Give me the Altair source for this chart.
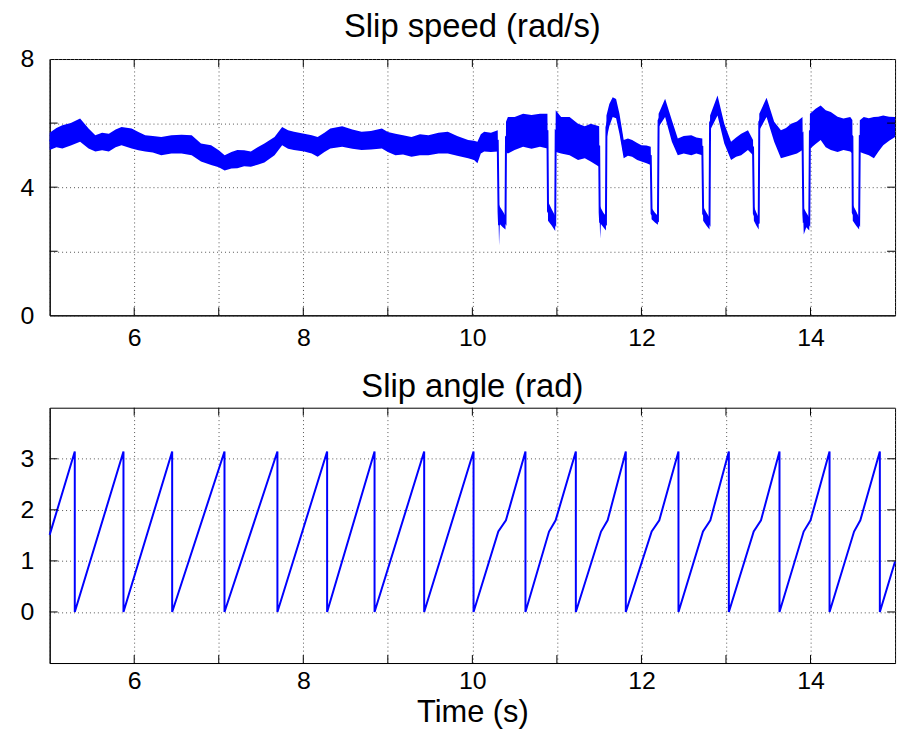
import altair as alt
import pandas as pd

# ---------------- data ----------------
# Slip speed: noisy band described by its lower / upper envelope (rad/s)
speed_t = [5.00, 5.08, 5.15, 5.25, 5.36, 5.46, 5.54, 5.62, 5.70, 5.78, 5.85, 5.97, 6.05, 6.13, 6.22,
           6.32, 6.44, 6.56, 6.68, 6.79, 6.91, 7.00, 7.07, 7.15, 7.22, 7.30, 7.38, 7.46, 7.54, 7.66,
           7.75, 7.82, 7.89, 8.01, 8.10, 8.17, 8.25, 8.32, 8.46, 8.58, 8.69, 8.80, 8.93, 9.00, 9.09,
           9.18, 9.28, 9.38, 9.48, 9.60, 9.71, 9.82, 9.95, 10.02, 10.06, 10.10, 10.14, 10.22, 10.30,
           10.310, 10.316, 10.324, 10.360, 10.392, 10.398, 10.42, 10.50, 10.60, 10.70, 10.80, 10.888,
           10.895, 10.94, 10.980, 10.986, 11.05, 11.15, 11.25, 11.33, 11.40, 11.50,
           11.506, 11.512, 11.52, 11.55, 11.580, 11.586, 11.62, 11.66, 11.70, 11.74, 11.79, 11.84,
           11.89, 11.95, 12.00, 12.06, 12.11,
           12.12, 12.16, 12.195, 12.203, 12.28, 12.36, 12.43, 12.50, 12.59, 12.65, 12.72,
           12.73, 12.77, 12.805, 12.812, 12.90, 12.98, 13.06, 13.12, 13.18, 13.26, 13.32,
           13.33, 13.36, 13.387, 13.394, 13.48, 13.57, 13.65, 13.71, 13.77, 13.84, 13.905,
           13.915, 13.92, 13.95, 13.985, 13.993, 14.06, 14.12, 14.18, 14.24, 14.32, 14.39, 14.47, 14.495,
           14.50, 14.54, 14.575, 14.583, 14.63, 14.69, 14.75, 14.80, 14.86, 14.93, 15.00]
speed_lo = [5.16, 5.25, 5.21, 5.30, 5.42, 5.21, 5.11, 5.15, 5.11, 5.25, 5.31, 5.21, 5.15, 5.11, 5.08,
            5.00, 5.05, 5.05, 5.00, 4.80, 4.69, 4.62, 4.52, 4.58, 4.59, 4.65, 4.64, 4.70, 4.77, 5.00,
            5.31, 5.20, 5.16, 5.11, 5.05, 4.95, 5.10, 5.21, 5.26, 5.20, 5.16, 5.18, 5.21, 5.10, 5.00,
            5.02, 4.95, 5.00, 5.00, 5.05, 5.05, 4.98, 4.90, 4.85, 4.75, 5.05, 5.11, 5.10, 5.11,
            2.95, 2.18, 2.85, 2.75, 2.68, 5.10, 5.05, 5.16, 5.26, 5.20, 5.26, 5.21,
            2.95, 2.80, 2.63, 5.10, 5.05, 5.00, 4.85, 4.90, 4.80, 4.64,
            2.95, 2.39, 2.85, 2.75, 2.65, 5.50, 5.90, 6.19, 6.15, 5.67, 4.90, 4.98,
            4.95, 4.85, 4.80, 4.75, 4.69,
            3.00, 2.90, 2.83, 5.88, 6.19, 5.42, 5.00, 5.05, 5.00, 5.05, 5.00,
            2.95, 2.80, 2.68, 5.78, 6.24, 5.36, 4.85, 4.95, 5.00, 5.16, 5.00,
            2.95, 2.80, 2.68, 5.78, 6.19, 5.42, 4.90, 4.95, 5.00, 5.05, 5.16,
            2.95, 2.52, 2.75, 2.65, 5.20, 5.35, 5.47, 5.25, 5.16, 5.10, 5.16, 5.11, 5.05,
            2.95, 2.80, 2.68, 5.10, 5.05, 5.00, 4.90, 5.10, 5.31, 5.45, 5.57]
speed_hi = [5.70, 5.85, 5.93, 6.00, 6.14, 5.83, 5.62, 5.70, 5.67, 5.80, 5.88, 5.83, 5.72, 5.62, 5.60,
            5.57, 5.62, 5.64, 5.62, 5.36, 5.31, 5.15, 5.00, 5.10, 5.16, 5.15, 5.11, 5.25, 5.36, 5.57,
            5.88, 5.78, 5.73, 5.67, 5.62, 5.57, 5.70, 5.83, 5.90, 5.80, 5.73, 5.75, 5.83, 5.72, 5.67,
            5.62, 5.57, 5.65, 5.62, 5.70, 5.73, 5.60, 5.47, 5.45, 5.42, 5.65, 5.73, 5.70, 5.78,
            3.50, 3.45, 3.40, 3.25, 3.10, 6.04, 6.19, 6.19, 6.29, 6.25, 6.29, 6.29,
            3.55, 3.30, 3.10, 6.40, 6.19, 6.19, 5.98, 5.90, 5.98, 5.90,
            3.45, 3.40, 3.35, 3.20, 3.10, 6.24, 6.60, 6.81, 6.75, 6.29, 5.47, 5.52,
            5.47, 5.38, 5.31, 5.30, 5.26,
            3.35, 3.20, 3.10, 6.29, 6.76, 6.09, 5.52, 5.60, 5.62, 5.55, 5.52,
            3.40, 3.20, 3.05, 6.24, 6.86, 5.98, 5.42, 5.55, 5.67, 5.78, 5.47,
            3.40, 3.20, 3.05, 6.29, 6.79, 6.04, 5.78, 5.85, 5.98, 6.05, 6.19,
            3.40, 3.35, 3.20, 3.05, 6.29, 6.45, 6.55, 6.40, 6.35, 6.20, 6.14, 6.19, 6.10,
            3.45, 3.25, 3.05, 6.09, 6.19, 6.15, 6.19, 6.20, 6.24, 6.20, 6.19]

# Slip angle: sawtooth between 0 and pi (rad)
angle_t = [5.0, 5.297, 5.297, 5.873, 5.873, 6.449, 6.449, 7.068, 7.068, 7.694, 7.694,
           8.282, 8.282, 8.843, 8.843, 9.43, 9.43, 10.014, 10.014, 10.307, 10.397,
           10.628, 10.628, 10.907, 10.985, 11.224, 11.224, 11.522, 11.60,
           11.815, 11.815, 12.121, 12.211, 12.438, 12.438, 12.728, 12.815,
           13.034, 13.034, 13.328, 13.414, 13.633, 13.633, 13.919, 14.0,
           14.225, 14.225, 14.515, 14.589, 14.82, 14.82, 15.0]
angle_v = [1.51, 3.1416, 0.0, 3.1416, 0.0, 3.1416, 0.0, 3.1416, 0.0, 3.1416, 0.0,
           3.1416, 0.0, 3.1416, 0.0, 3.1416, 0.0, 3.1416, 0.0, 1.575, 1.795,
           3.1416, 0.0, 1.575, 1.795, 3.1416, 0.0, 1.575, 1.795,
           3.1416, 0.0, 1.575, 1.795, 3.1416, 0.0, 1.575, 1.795,
           3.1416, 0.0, 1.575, 1.795, 3.1416, 0.0, 1.575, 1.795,
           3.1416, 0.0, 1.575, 1.795, 3.1416, 0.0, 0.99]

x_grid = [5, 6, 7, 8, 9, 10, 11, 12, 13, 14, 15]
x_inner_ticks = [6, 7, 8, 9, 10, 11, 12, 13, 14]
speed_ticks = [0, 2, 4, 6, 8]
speed_inner_ticks = [2, 4, 6]
angle_ticks = [0, 1, 2, 3]

# ---------------- chart ----------------
W, H1, H2 = 851, 258, 257
BLUE = "#0000ff"
FONT = "Liberation Sans"
TL = 8  # inner tick length
TITLE_SIZE = 33
LABEL_SIZE = 25

speed_df = pd.DataFrame({"t": speed_t, "lo": speed_lo, "hi": speed_hi})
speed_df["mid"] = (speed_df["lo"] + speed_df["hi"]) / 2
angle_df = pd.DataFrame({"t": angle_t, "v": angle_v, "i": list(range(len(angle_t)))})

xscale = alt.Scale(domain=[5, 15], nice=False, zero=False)
label_even = "datum.value % 2 == 0 ? datum.label : ''"


def x_axis(title, pad):
    kw = dict(values=x_grid, labelExpr=label_even, grid=True, ticks=False,
              labelPadding=pad, labelFontSize=LABEL_SIZE, titleFontSize=31,
              titleFontWeight="normal", titlePadding=4)
    if title:
        return alt.Axis(title=title, **kw)
    return alt.Axis(title=None, **kw)


def inner_ticks(xvals, yvals, yscale, yaxis, xaxis, h):
    xt = pd.DataFrame({"t": xvals})
    yt = pd.DataFrame({"v": yvals})
    xs = alt.X("t:Q", scale=xscale, axis=xaxis)
    ys = alt.Y("v:Q", scale=yscale, axis=yaxis)
    bot = alt.Chart(xt).mark_rule(color="black", strokeWidth=1).encode(
        x=xs, y=alt.value(h - TL), y2=alt.value(h))
    top = alt.Chart(xt).mark_rule(color="black", strokeWidth=1).encode(
        x=xs, y=alt.value(0), y2=alt.value(TL))
    left = alt.Chart(yt).mark_rule(color="black", strokeWidth=1).encode(
        y=ys, x=alt.value(0), x2=alt.value(TL))
    right = alt.Chart(yt).mark_rule(color="black", strokeWidth=1).encode(
        y=ys, x=alt.value(W - TL), x2=alt.value(W))
    return [bot, top, left, right]


yscale1 = alt.Scale(domain=[0, 8], nice=False, zero=False)
yaxis1 = alt.Axis(values=speed_ticks, labelExpr="datum.value % 4 == 0 ? datum.label : ''",
                  grid=True, ticks=False, title=None, labelPadding=16, minExtent=49,
                  labelFontSize=LABEL_SIZE)
xaxis1 = x_axis(None, 10)

band = alt.Chart(speed_df).mark_area(color=BLUE, opacity=1).encode(
    x=alt.X("t:Q", scale=xscale, axis=xaxis1),
    y=alt.Y("lo:Q", scale=yscale1, axis=yaxis1),
    y2="hi:Q",
)
mid = alt.Chart(speed_df).mark_line(color=BLUE, strokeWidth=2).encode(
    x=alt.X("t:Q", scale=xscale, axis=xaxis1),
    y=alt.Y("mid:Q", scale=yscale1, axis=yaxis1),
)
top_panel = alt.layer(band, mid, *inner_ticks(x_inner_ticks, speed_inner_ticks, yscale1,
                                              yaxis1, xaxis1, H1)).properties(
    width=W, height=H1,
    title=alt.TitleParams("Slip speed (rad/s)", fontSize=TITLE_SIZE, font=FONT,
                          fontWeight="normal", color="black", anchor="middle", offset=3),
)

yscale2 = alt.Scale(domain=[-1, 4], nice=False, zero=False)
yaxis2 = alt.Axis(values=angle_ticks, grid=True, ticks=False, title=None, labelPadding=16,
                  minExtent=49, labelFontSize=LABEL_SIZE)
xaxis2 = x_axis("Time (s)", 6)
saw = alt.Chart(angle_df).mark_line(color=BLUE, strokeWidth=2).encode(
    x=alt.X("t:Q", scale=xscale, axis=xaxis2),
    y=alt.Y("v:Q", scale=yscale2, axis=yaxis2),
    order="i:Q",
)
bottom_panel = alt.layer(saw, *inner_ticks(x_inner_ticks, angle_ticks, yscale2,
                                           yaxis2, xaxis2, H2)).properties(
    width=W, height=H2,
    title=alt.TitleParams("Slip angle (rad)", fontSize=TITLE_SIZE, font=FONT,
                          fontWeight="normal", color="black", anchor="middle", offset=3),
)

chart = alt.vconcat(top_panel, bottom_panel, spacing=93, bounds="flush").properties(
    padding={"left": 0, "top": 8, "right": 4, "bottom": 0},
    background="white",
).configure_view(
    stroke="black", strokeWidth=1,
).configure_axis(
    labelFont=FONT, titleFont=FONT, labelColor="black", titleColor="black",
    domainColor="black", domainWidth=1,
    gridColor="#555555", gridDash=[1, 3], gridWidth=1, gridOpacity=1,
)

chart.save("out.html", embed_options={"renderer": "svg", "actions": False})
